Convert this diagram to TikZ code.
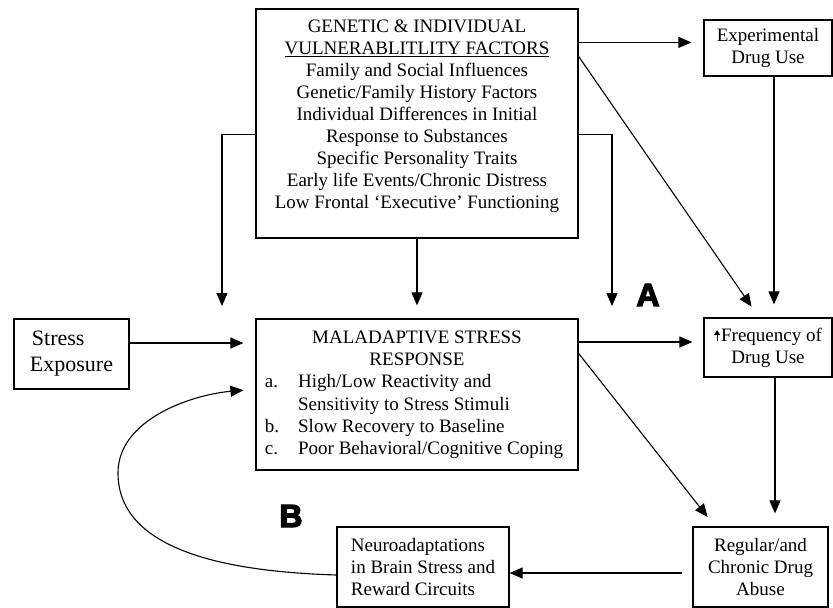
\documentclass[tikz,border=0pt]{standalone}
\usepackage{fontspec}
\setmainfont{Liberation Serif}
\newfontfamily\heavyfont[FakeBold=4]{Liberation Sans}
\usetikzlibrary{arrows.meta,calc}
\newcommand\uparrowglyph{\tikz[baseline=0pt]\draw[line width=1.1pt,-{Triangle[length=5pt,width=6pt]}] (0pt,0pt) -- (0pt,11pt);\hspace{1pt}}
\tikzset{
  box/.style={draw, line width=1.2pt, inner sep=0pt},
  arr/.style={line width=1.1pt, -{Triangle[length=13pt,width=11pt]}},
  txt/.style={font=\fontsize{19}{22}\selectfont, align=center, inner sep=0pt},
  bigletter/.style={font=\heavyfont\bfseries\fontsize{32}{32}\selectfont, inner sep=0pt}
}
\begin{document}
\begin{tikzpicture}[x=1pt,y=-1pt]
\useasboundingbox (0,0) rectangle (833,608);
% boxes
\node[box, minimum width=322pt, minimum height=229pt] (gen) at (417,123.5) {};
\node[txt, anchor=north] (gentext) at ([yshift=-11pt]gen.north)
  {GENETIC \& INDIVIDUAL\\\underline{VULNERABLITLITY FACTORS}\\Family and Social Influences\\Genetic/Family History Factors\\Individual Differences in Initial\\Response to Substances\\Specific Personality Traits\\Early life Events/Chronic Distress\\Low Frontal ‘Executive’ Functioning};
\node[box, txt, minimum width=128pt, minimum height=56pt] (exp) at (768,48) {Experimental\\Drug Use};
\node[box, txt, font=\fontsize{22}{26}\selectfont, align=left, minimum width=115pt, minimum height=70pt] (stress) at (71.5,354) {\hspace{2pt}Stress\\Exposure};
\node[box, minimum width=322pt, minimum height=151pt] (main) at (417,394.5)
  {\fontsize{19}{22.3}\selectfont\begin{tabular}{@{}l@{\hspace{19pt}}l@{\hspace{6pt}}}
   \multicolumn{2}{@{}c@{}}{MALADAPTIVE STRESS}\\
   \multicolumn{2}{@{}c@{}}{RESPONSE}\\
   a. & High/Low Reactivity and\\
      & Sensitivity to Stress Stimuli\\
   b. & Slow Recovery to Baseline\\
   c. & Poor Behavioral/Cognitive Coping
  \end{tabular}};
\node[box, txt, minimum width=128pt, minimum height=59pt] (freq) at (768,347.5) {\uparrowglyph Frequency of\\Drug Use};
\node[box, txt, minimum width=135pt, minimum height=80pt] (reg) at (760.5,567) {Regular/and\\Chronic Drug\\Abuse};
\node[box, txt, align=left, minimum width=172pt, minimum height=80pt] (neuro) at (423,567) {Neuroadaptations\\in Brain Stress and\\Reward Circuits};
\node[bigletter] (labA) at (648,295) {A};
\node[bigletter] (labB) at (291,516) {B};
% free arrow ends
\coordinate (tipL) at (222,306);
\coordinate (tipR) at (612,306);
% connectors
\draw[arr] ([yshift=-126pt]gen.north west) -| (tipL);
\draw[arr] ([yshift=-126pt]gen.north east) -| (tipR);
\draw[arr, shorten >=13pt] (gen.south) -- (main.north);
\draw[arr, shorten >=12pt] ([yshift=-34pt]gen.north east) -- ([yshift=-34pt]gen.north east -| exp.west);
\draw[arr, shorten >=13pt] ([yshift=-48pt]gen.north east) -- ([xshift=-9pt]freq.north);
\draw[arr, shorten >=13pt] ([xshift=6pt]exp.south) -- ([xshift=6pt]freq.north);
\draw[arr, shorten >=13pt] ([xshift=7pt]freq.south) -- ([xshift=7pt]freq.south |- reg.north);
\draw[arr, shorten >=11pt] ([yshift=5.5pt]freq.west -| main.east) -- ([yshift=5.5pt]freq.west);
\draw[arr, shorten >=12pt] ([yshift=11pt]stress.east) -- ([yshift=11pt]stress.east -| main.west);
\draw[arr, shorten >=12pt] ([yshift=-35pt]main.north east) -- ([xshift=-45.5pt]reg.north);
\draw[arr, shorten <=10pt] ([yshift=-6pt]reg.west) -- ([yshift=-6pt]reg.west -| neuro.east);
\draw[arr, shorten >=12pt] ([yshift=-8pt]neuro.west) .. controls (240,572) and (118,555) .. (118,473)
   .. controls (118,420) and (190,395) .. ([yshift=5.5pt]main.west);
\end{tikzpicture}
\end{document}
